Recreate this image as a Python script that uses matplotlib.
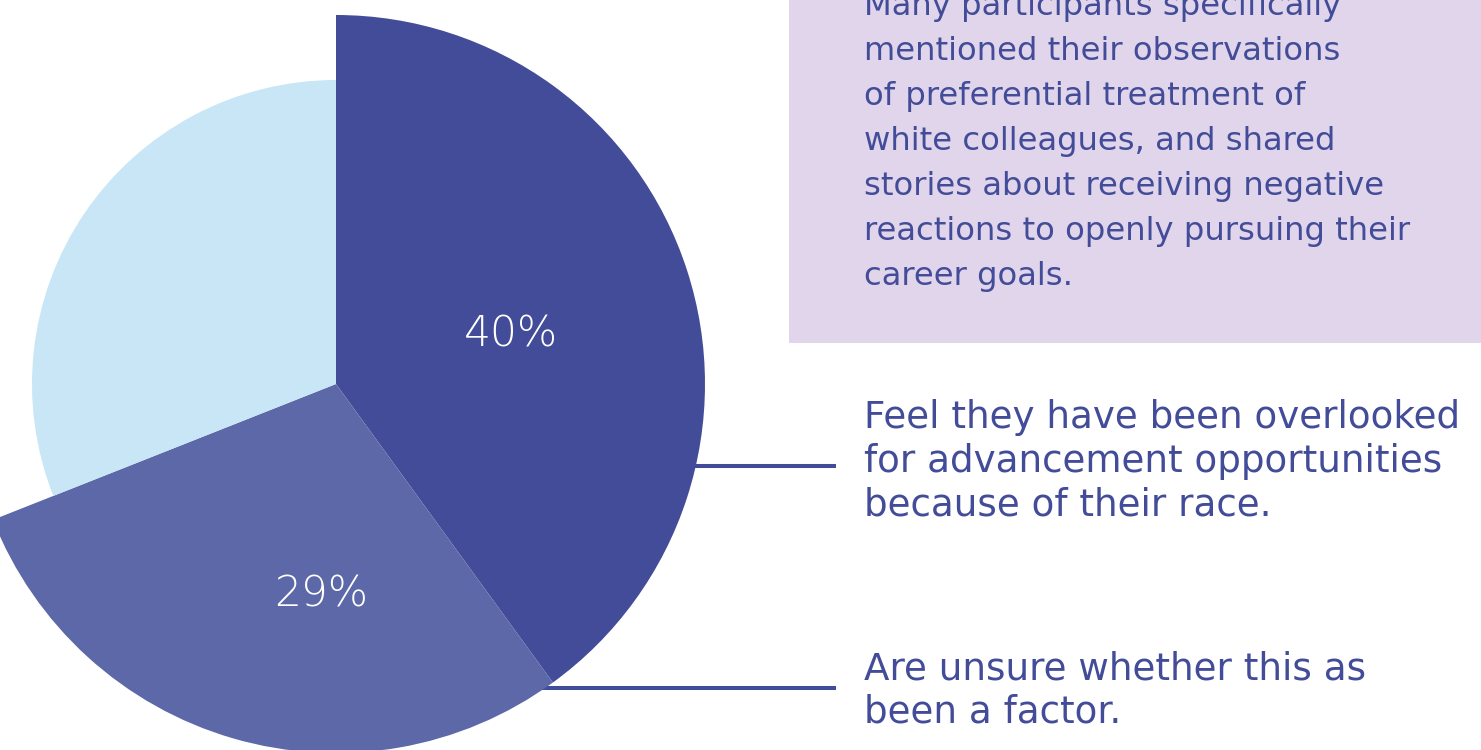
import matplotlib
matplotlib.use("Agg")
import matplotlib.pyplot as plt
from matplotlib.patches import Rectangle

# Survey shares (percent), drawn clockwise from 12 o'clock
shares = [40, 29, 31]
slice_colors = ["#434c98", "#5c68a7", "#c8e6f6"]
slice_radius = [369, 369, 304]
show_label = [True, True, False]

note_lines = [
    "Many participants specifically",
    "mentioned their observations",
    "of preferential treatment of",
    "white colleagues, and shared",
    "stories about receiving negative",
    "reactions to openly pursuing their",
    "career goals.",
]
overlooked_lines = [
    "Feel they have been overlooked",
    "for advancement opportunities",
    "because of their race.",
]
unsure_lines = [
    "Are unsure whether this as",
    "been a factor.",
]

INK = "#434c98"
BOX = "#e0d5ea"
FONT = "DejaVu Sans"

W, H = 1481, 750
fig = plt.figure(figsize=(W / 100, H / 100), dpi=100)
ax = fig.add_axes([0, 0, 1, 1])

cx, cy = 336, H - 384

# leader lines sit underneath the pie
ax.plot([600, 836], [H - 466, H - 466], color=INK, lw=2.9, solid_capstyle="butt", zorder=1)
ax.plot([480, 836], [H - 687.5, H - 687.5], color=INK, lw=2.9, solid_capstyle="butt", zorder=1)

wedges, _ = ax.pie(shares, colors=slice_colors, startangle=90, counterclock=False,
                   center=(cx, cy), radius=369, frame=False,
                   wedgeprops=dict(linewidth=0))
for w, r in zip(wedges, slice_radius):
    w.set_radius(r)
    w.set_zorder(2)

# percentage labels
label_pos = [(511, H - 334), (321, H - 594), None]
for val, pos, show in zip(shares, label_pos, show_label):
    if show:
        ax.text(pos[0], pos[1], f"{val}%", color="white", fontsize=30.5,
                family=FONT, fontweight="light", ha="center", va="center", zorder=3)

# note box in the upper right
ax.add_patch(Rectangle((789, H - 343), 700, 343, facecolor=BOX, edgecolor="none", zorder=0))
for i, line in enumerate(note_lines):
    ax.text(864, H - (15 + 45 * i), line, color=INK, fontsize=23.2, family=FONT,
            ha="left", va="baseline", zorder=3)

for i, line in enumerate(overlooked_lines):
    ax.text(864, H - (428 + 43.5 * i), line, color=INK, fontsize=26.8, family=FONT,
            ha="left", va="baseline", zorder=3)

for i, line in enumerate(unsure_lines):
    ax.text(864, H - (679 + 43.5 * i), line, color=INK, fontsize=26.8, family=FONT,
            ha="left", va="baseline", zorder=3)

ax.set_xlim(0, W)
ax.set_ylim(0, H)
ax.set_aspect("auto")
ax.axis("off")

fig.savefig("out.png", dpi=100, facecolor="white")
